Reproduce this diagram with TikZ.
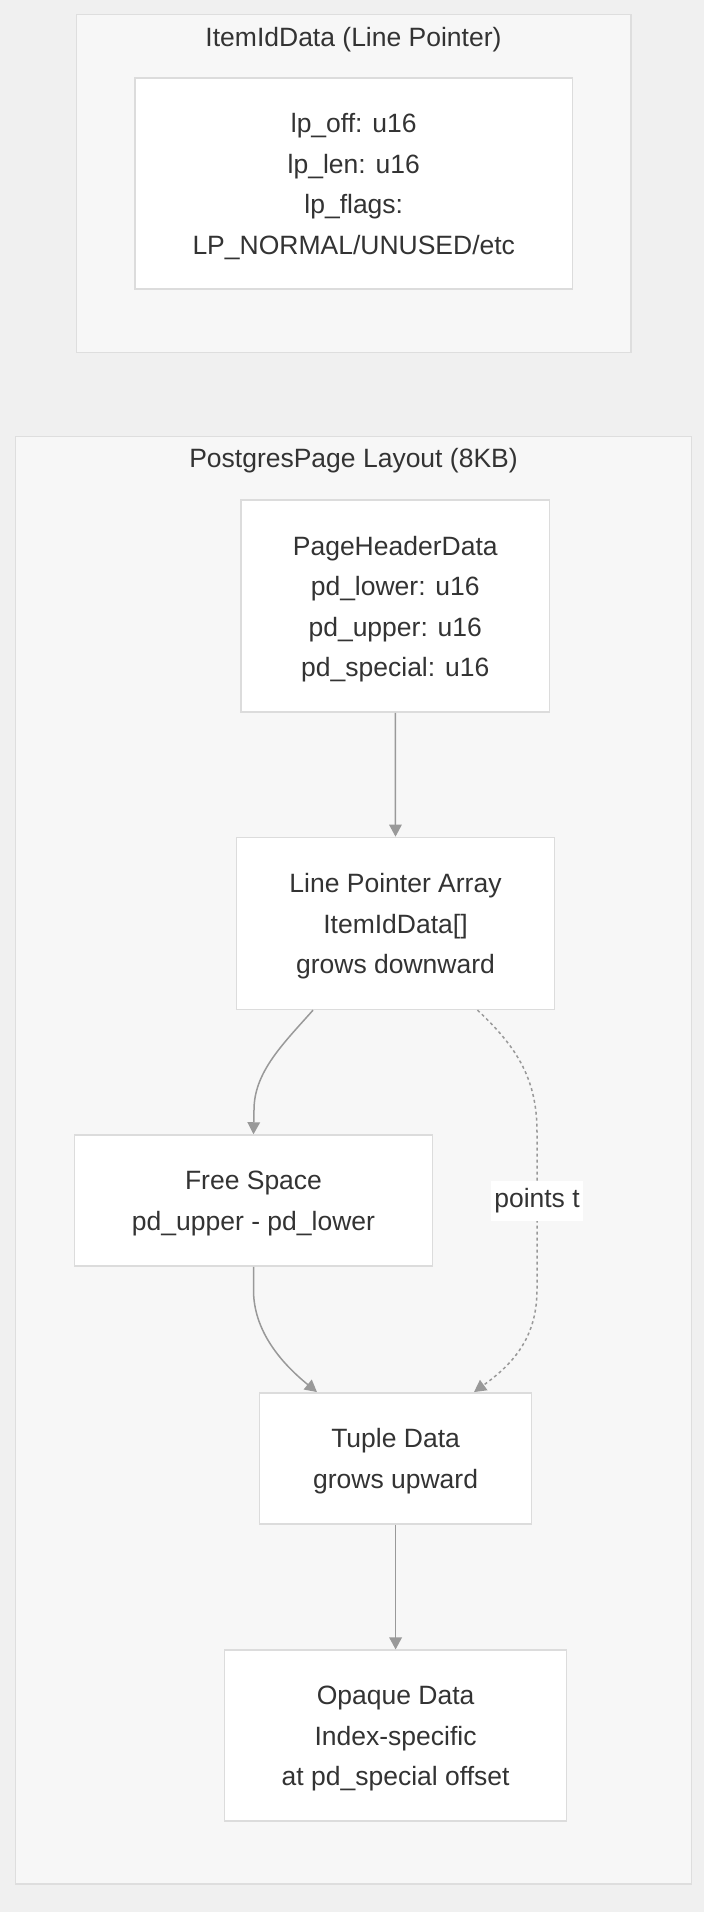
\documentclass[tikz,border=0pt]{standalone}
\usepackage{fontspec}
\setmainfont{Liberation Sans}
\usetikzlibrary{arrows.meta,calc}
\definecolor{bgc}{HTML}{F0F0F0}
\definecolor{clfill}{HTML}{F7F7F7}
\definecolor{clline}{HTML}{DEDEDE}
\definecolor{ndline}{HTML}{DCDCDC}
\definecolor{edgec}{HTML}{999999}
\definecolor{txt}{HTML}{333333}
\tikzset{
  cluster/.style={draw=clline, fill=clfill, line width=1.5pt},
  cltitle/.style={text=txt, font=\fontsize{26.5pt}{40pt}\selectfont, inner sep=0pt},
  boxnode/.style={draw=ndline, fill=white, line width=1.5pt, inner sep=0pt},
  boxtext/.style={text=txt, align=center, font=\fontsize{26.5pt}{40.5pt}\selectfont, inner sep=0pt},
  flow/.style={draw=edgec, line width=1.5pt, -{Triangle[length=12pt,width=12.5pt]}},
  dotflow/.style={flow, dash pattern=on 3pt off 3pt},
  elabel/.style={fill=white, text=txt, font=\fontsize{26.5pt}{40pt}\selectfont,
    inner xsep=3.5pt, inner ysep=0pt, minimum height=40pt}
}
\begin{document}
\begin{tikzpicture}[x=1pt,y=-1pt]
\fill[bgc] (0,0) rectangle (704,1912);
\useasboundingbox (0,0) rectangle (704,1912);

% ItemIdData cluster
\draw[cluster] (76.5,14.5) rectangle (631,352.5);
\node[cltitle] (t1) at (353.5,39.5) {ItemIdData (Line Pointer)};
\node[boxnode, minimum width=437.5pt, minimum height=211pt] (lp) at (353.75,183.5) {};
\node[boxtext] (lpt) at ([yshift=-3pt]lp.center)
  {lp\_off: u16\\lp\_len: u16\\lp\_flags:\\LP\_NORMAL/UNUSED/etc};

% PostgresPage cluster
\draw[cluster] (15.5,436.5) rectangle (691.5,1884);
\node[cltitle] (t2) at (353.5,461) {PostgresPage Layout (8KB)};

\node[boxnode, minimum width=308.5pt, minimum height=212pt] (hdr) at (395.25,606) {};
\node[boxtext] (hdrt) at ([yshift=-3pt]hdr.center)
  {PageHeaderData\\pd\_lower: u16\\pd\_upper: u16\\pd\_special: u16};
\node[boxnode, minimum width=318pt, minimum height=172pt] (lpa) at (395.5,923.4) {};
\node[boxtext] (lpat) at ([yshift=-3pt]lpa.center)
  {Line Pointer Array\\ItemIdData[]\\grows downward};
\node[boxnode, minimum width=358pt, minimum height=131pt] (free) at (253.5,1200.5) {};
\node[boxtext] (freet) at ([yshift=-3pt]free.center)
  {Free Space\\pd\_upper - pd\_lower};
\node[boxnode, minimum width=272pt, minimum height=131pt] (tup) at (395.6,1458.3) {};
\node[boxtext] (tupt) at ([yshift=-3pt]tup.center)
  {Tuple Data\\grows upward};
\node[boxnode, minimum width=342pt, minimum height=171pt] (opq) at (395.6,1735.7) {};
\node[boxtext] (opqt) at ([yshift=-3pt]opq.center)
  {Opaque Data\\Index-specific\\at pd\_special offset};

% edges
\draw[flow] (hdr.south) -- (lpa.north);
\draw[flow] ([xshift=-82.5pt]lpa.south) .. controls (283,1044) and (254,1072) .. (254,1110) -- (free.north);
\draw[flow] (free.south) -- (253.5,1290) .. controls (253.5,1330) and (280,1362) .. ([xshift=-78.6pt]tup.north);
\draw[dotflow] ([xshift=82pt]lpa.south) .. controls (518,1048) and (537,1080) .. (537,1132)
  -- (537,1290) .. controls (537,1340) and (510,1366) .. ([xshift=78.4pt]tup.north);
\node[elabel] (pl) at (537,1201) {points t};
\draw[flow] (tup.south) -- (opq.north);
\end{tikzpicture}
\end{document}
